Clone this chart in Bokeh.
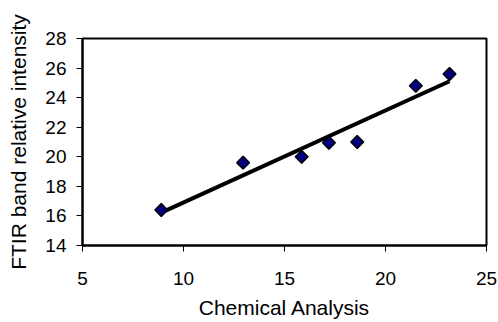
import numpy as np
from bokeh.plotting import figure
from bokeh.models import Range1d, FixedTicker, ColumnDataSource
from bokeh.embed import file_html
from bokeh.resources import INLINE

# Chemical analysis vs FTIR band relative intensity
chem = [8.9, 12.95, 15.85, 17.2, 18.6, 21.5, 23.17]
ftir = [16.4, 19.6, 20.0, 20.95, 21.0, 24.8, 25.6]
x_ticks = [5, 10, 15, 20, 25]
y_ticks = [14, 16, 18, 20, 22, 24, 26, 28]

# least-squares trend line across the measured range
slope, intercept = np.polyfit(chem, ftir, 1)
fit_x = [min(chem), max(chem)]
fit_y = [slope * v + intercept for v in fit_x]

FONT = "Liberation Sans"

p = figure(width=498, height=322, output_backend="svg", toolbar_location=None,
           x_range=Range1d(5, 25), y_range=Range1d(14, 28),
           min_border_left=82, min_border_right=12, min_border_top=38, min_border_bottom=77)
p.grid.visible = False
p.outline_line_color = "black"
p.outline_line_width = 2
p.background_fill_color = "white"
p.border_fill_color = "white"

for ax in (p.xaxis[0], p.yaxis[0]):
    ax.axis_line_width = 2
    ax.axis_line_color = "black"
    ax.major_tick_line_color = "black"
    ax.major_tick_line_width = 1
    ax.major_tick_out = 6
    ax.major_tick_in = 0
    ax.minor_tick_line_color = None
    ax.major_label_text_font = FONT
    ax.major_label_text_font_size = "19px"
    ax.major_label_text_color = "black"
    ax.axis_label_text_font = FONT
    ax.axis_label_text_font_size = "21px"
    ax.axis_label_text_font_style = "normal"
    ax.axis_label_text_color = "black"

p.xaxis.ticker = FixedTicker(ticks=x_ticks)
p.yaxis.ticker = FixedTicker(ticks=y_ticks)
p.xaxis.axis_label = "Chemical Analysis"
p.yaxis.axis_label = "FTIR band relative intensity"
p.xaxis.major_label_standoff = 20
p.yaxis.major_label_standoff = 10
p.xaxis.axis_label_standoff = 8
p.yaxis.axis_label_standoff = 12

p.line(fit_x, fit_y, line_color="black", line_width=4)

src = ColumnDataSource(dict(x=chem, y=ftir))
p.scatter("x", "y", source=src, marker="square", angle=np.pi / 4, size=9,
          fill_color="#000080", line_color="black", line_width=1.5)

open("out.html", "w").write(file_html(p, INLINE))
